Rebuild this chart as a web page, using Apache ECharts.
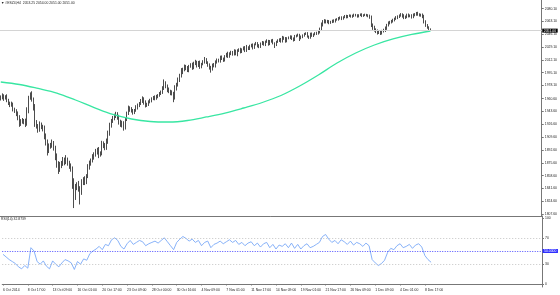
<!DOCTYPE html>
<html><head><meta charset="utf-8">
<script src="https://cdn.jsdelivr.net/npm/echarts@6/dist/echarts.min.js"></script>
<style>html,body{margin:0;padding:0;background:#fff}#c{width:560px;height:295px}</style>
</head><body><div id="c"></div>
<script>
const symbolName = '#ESZ4,H4';
const firstOpen = 1960.25;
const closes = [
1962.5,1964.75,1961.25,1963,1958.5,1955.25,1951.75,1953.5,1947,1944.25,
1940.75,1934.5,1928.25,1931.5,1929.75,1932,1927.5,1944.75,1961.5,1965.25,
1959.75,1949.5,1929,1924.25,1919.5,1926,1923.75,1921.5,1911.75,1903.25,
1891.5,1896.75,1899.25,1901.5,1895.75,1884.25,1873.5,1866.75,1871.25,1875,
1879.25,1876.5,1880,1874.75,1872,1867.5,1848.5,1831.75,1843.25,1846,
1841.5,1836.75,1849,1853.25,1850.5,1857.75,1870.25,1874.5,1879,1883.25,
1886.5,1889.75,1893,1886.25,1888.5,1900.75,1899,1895.5,1904.25,1914,
1925.5,1931.25,1934,1938.5,1940.25,1935.75,1930,1925.75,1927.5,1922.75,
1933.5,1941.25,1948,1946.5,1944.75,1942.5,1945.25,1949,1951.75,1954.25,
1957.5,1960.5,1956,1951.75,1953.5,1956.25,1958,1960.75,1962.25,1961,
1963.5,1965.25,1967,1969.5,1974.25,1981,1977.5,1972,1970.25,1968.75,
1967.5,1961.75,1974.5,1979.25,1985.5,1991,1996.25,1999.5,2003,2001.25,
1998.25,2003.5,2006,2001.75,2007.5,2009.25,2004.5,2008.75,2003,2006.75,
2009.5,2012,2008.75,2005.5,2002,2000.25,2005.5,2004,2009.5,2012.25,
2010.5,2015.75,2013.5,2011.75,2017,2019.5,2016.75,2020,2022.5,2019.75,
2024.25,2020.5,2024.5,2026.25,2022.75,2026,2028.25,2024.5,2029,2026.75,
2030.5,2032,2028.25,2032.75,2034.25,2030.75,2029.5,2033.75,2035.5,2032.25,
2036.25,2037.5,2033,2036.75,2038,2034.25,2032,2036,2037.75,2039.5,
2036.5,2040.5,2041.25,2037,2040.75,2041.5,2043.25,2040,2038.5,2043.75,
2044.5,2045.25,2040.75,2042.5,2044.75,2046.5,2047,2043.25,2042,2046.75,
2044.25,2046,2047.5,2047.25,2049,2052.5,2058.75,2062.25,2064,2062.5,
2063.75,2061.5,2062.25,2064,2063.25,2065.5,2066,2067.25,2068.5,2067,
2068.75,2070.25,2069,2070.5,2071,2069.75,2070.5,2072,2071.25,2070,
2071.5,2072.25,2070.75,2071.5,2072,2071.25,2070.5,2068.75,2058.5,2055,
2052.25,2050.5,2048.75,2049.5,2047.75,2050.25,2051.5,2054,2058.25,2061,
2062.5,2063.25,2065,2066.75,2068.25,2069.5,2071,2072.25,2070.5,2068,
2069.5,2071.75,2070.25,2071,2069.25,2071.5,2072.75,2074,2072.5,2071.25,
2071.75,2069.5,2063,2058.25,2055.5,2053.25,2051
];
const wickHi = [
2.5,3,1.75,2.25,3.5,2,1.5,3.25,2,1.75,
2.5,3,4.25,2,3.5,1.75,2.25,4.5,3,3.75,
5.25,2.5,4,3.25,2.75,4.5,3,2.25,3.5,2.75,
3.25,4.5,2.75,5,3,2.5,3.75,4.25,5.5,3,
4,3.25,5.75,2.5,3.5,2.75,3.25,6.5,4.25,3.75,
5.5,3,4.75,3.25,4.5,2.75,3.5,4,2.25,3.75,
3,4.25,2.5,3.5,2.25,4,3.25,2.75,3.5,4.25,
3.25,2.5,3.75,2.25,3,2.5,3.5,2.75,4,3.25,
2.75,2.25,3.5,2.5,3,2.25,1.75,3,2.5,2,
2.75,3.25,2,2.5,1.75,2.25,2.5,1.75,2,2.75,
2.25,1.5,2.5,2,3,5.25,2.75,2,3.5,2.25,
3,2.25,4,2.5,3.25,2.75,5,2.25,3,2.5,
2.75,2,1.75,2.5,2.25,3,1.75,2,2.5,1.5,
2.25,4,2.5,1.5,2,2.25,1.75,2.5,2,1.75,
1.5,2,2.25,1.75,1.5,2,3.5,2.25,1.75,1.5,
2,1.5,1.75,1.25,2,1.5,1.75,2.25,3,1.25,
1.75,1.5,2,1.25,1.75,1.5,2.25,1.5,1.75,1.25,
1.5,2,1.25,1.75,1.5,2,1.25,1.5,1.75,1.25,
1.75,3.5,2,1.25,1.5,1.75,1.5,1.25,2,1.5,
1.25,1.75,1.5,2,1.25,1.5,1.75,2,1.25,1.5,
1.75,1.25,1.5,2,1.75,2.5,3,2.75,2.25,1.75,
1.5,1.25,1.75,1.5,2,1.25,1.5,1.75,1.25,1.5,
1.25,1.5,1.75,1.25,1.5,1.25,1.75,1.5,1.25,1.5,
1.25,1.5,1.75,1.25,1.5,1.25,1.5,1.75,2.25,2,
2.5,1.75,2,1.5,2.25,1.75,2,2.5,1.75,2.25,
1.5,2,1.75,1.5,2,1.75,1.5,2,1.75,2.25,
1.5,1.75,2,1.5,1.75,2.25,1.5,1.75,2,1.5,
1.75,2,2.5,1.75,1.5,1.25,0.75
];
const wickLo = [
2,2.75,3.5,1.75,2.5,3,2.25,1.75,3.25,2.5,
3.25,2.5,5,3.75,2.25,3,4.5,2.75,3.5,2.25,
3,4.5,5.75,3.25,4,2.75,3.5,4.25,5,4.75,
6.25,3,2.5,3.75,4,5.25,4.5,6,3.25,2.75,
3.5,4.25,2.75,3,4.5,3.75,7.5,16.25,5.5,4,
4.25,16.5,3.75,3,4.5,3.25,2.5,3.75,2.75,3,
3.5,2.75,3.25,4.5,2.5,3,4,3.25,2.75,3.5,
2.5,3.25,2.75,2,3.5,3,3.75,2.5,3.25,4.5,
3,2.5,2.25,3.25,2.5,3,2.25,2,2.75,2.25,
2,2.5,3.25,2.75,2,2.5,1.75,2.25,2,2.5,
1.75,2.25,2,1.5,2.5,2,3,2.75,2.25,3.5,
2.5,5.75,2.25,3,2.5,2.75,2.25,3,2.5,2.75,
2.25,2.5,1.75,2.75,2,2.25,2.5,1.75,2.75,2,
1.75,2.25,2,2.5,2.75,5,2.25,1.75,2,2.25,
1.75,2,1.5,2.25,1.75,1.5,2,1.75,1.5,2,
1.75,2.25,3.5,1.75,2,1.5,1.25,2,1.75,1.5,
1.5,1.75,2.25,1.5,1.25,2,1.75,1.5,2,1.25,
1.75,1.5,2,1.25,1.75,1.5,4,1.5,1.25,1.75,
1.5,1.25,1.75,2,1.5,1.25,1.75,1.5,2,1.25,
1.75,1.5,3.5,1.25,1.5,1.75,1.25,1.5,2,1.75,
1.5,1.75,1.25,2,1.5,1.75,2,2.25,1.75,2,
1.75,2,1.5,1.25,1.75,1.5,1.25,1.75,1.5,2,
1.5,1.25,1.75,1.5,1.25,1.5,1.75,1.25,1.5,1.75,
1.5,1.25,1.75,1.5,1.25,1.5,1.75,2,2.75,3,
2.5,2.75,3,2.25,2.5,2,1.75,2.25,2,1.75,
1.75,2,1.5,1.75,1.5,2,1.75,1.5,2.25,1.75,
1.5,2,1.75,1.5,2.25,1.75,1.5,2,1.75,1.5,
1.75,2,2.5,2.25,2,1.75,0
];
const maPoints = [[0,1982.8],[12,1979.5],[24,1974.2],[36,1968.2],[48,1958.9],[60,1948.9],[72,1939.7],[84,1933.7],[96,1930.4],[108,1929.7],[120,1931.7],[132,1936.4],[144,1941.6],[156,1948.3],[168,1955.6],[180,1964.9],[192,1977.5],[204,1992.1],[216,2008.0],[228,2021.3],[240,2031.9],[252,2039.9],[264,2045.9],[276,2050.5]];
const rsiStep = 2;
const rsiValues = [
45,41,37,34,31,26,23,28,24,55,
50,34,30,35,27,23,35,30,26,32,
37,35,32,22,34,30,38,36,46,50,
53,57,52,60,58,67,70,66,57,53,
61,66,60,63,66,64,58,61,63,65,
62,66,70,64,58,52,63,68,72,69,
65,68,63,66,58,63,65,55,60,62,
65,61,64,67,63,66,60,63,58,62,
64,58,62,56,61,63,55,60,53,59,
57,61,55,62,54,60,53,58,61,55,
57,60,63,72,75,68,63,66,61,67,
64,60,65,59,63,61,57,62,58,37,
32,28,31,36,48,54,52,58,61,55,
57,60,54,59,61,56,43,37,32.8739
];
const priceTickLabels = ['2080.10','2063.10','2046.10','2029.10','2012.10','1995.10','1978.10','1960.60','1943.60','1926.60','1909.60','1892.60','1875.60','1858.60','1841.60','1824.60','1807.60'];
const rsiTickLabels = ['100','70','30','0'];
const rsiLevels = [70, 50, 30];
const timeLabels = ['6 Oct 2014','8 Oct 17:00','13 Oct 09:00','16 Oct 01:00','20 Oct 17:00','23 Oct 09:00','28 Oct 00:00','30 Oct 16:00','4 Nov 09:00','7 Nov 01:00','11 Nov 17:00','14 Nov 09:00','19 Nov 01:00','21 Nov 17:00','26 Nov 09:00','1 Dec 09:00','4 Dec 01:00','8 Dec 17:00'];
const labelEvery = 16;
const totalSlots = 348;

const N = closes.length;
const ohlc = closes.map((c, i) => {
  const o = i === 0 ? firstOpen : closes[i - 1];
  return [o, c, Math.min(o, c) - wickLo[i], Math.max(o, c) + wickHi[i]];
});
const cats = Array.from({length: totalSlots}, (_, i) => String(i));
const rsiData = rsiValues.map((v, k) => [k * rsiStep, v]);
const last = ohlc[N - 1];
const fmt = v => v.toFixed(2);
const FONT = 'Liberation Sans';
const FS = 3.4;
const TXT = '#222';
const AX = '#777';
const priceTicks = priceTickLabels.map(Number);
const rsiTicks = rsiTickLabels.map(Number);
const showLbl = (i) => i % labelEvery === 0 && i / labelEvery < timeLabels.length;

const chart = echarts.init(document.getElementById('c'), null, {renderer: 'canvas'});
chart.setOption({
  animation: false,
  backgroundColor: '#fff',
  title: [
    {text: '▼ ' + symbolName + '  ' + [last[0], last[3], last[2], last[1]].map(fmt).join(' '),
     left: 1, top: 1.5, padding: 0,
     textStyle: {fontSize: FS, fontWeight: 'normal', color: TXT, fontFamily: FONT}},
    {text: 'RSI(14) ' + rsiValues[rsiValues.length - 1].toFixed(4),
     left: 1, top: 217.5, padding: 0,
     textStyle: {fontSize: FS, fontWeight: 'normal', color: TXT, fontFamily: FONT}}
  ],
  grid: [
    {left: 0, right: 18, top: 0, height: 216},
    {left: 0, right: 18, top: 216, bottom: 8}
  ],
  xAxis: [
    {type: 'category', gridIndex: 0, data: cats, boundaryGap: true,
     axisLine: {show: true, lineStyle: {color: AX, width: 1}},
     axisTick: {show: false}, axisLabel: {show: false}, splitLine: {show: false}},
    {type: 'category', gridIndex: 1, data: cats, boundaryGap: true,
     axisLine: {show: true, lineStyle: {color: AX, width: 1}},
     axisTick: {show: true, alignWithLabel: true, interval: showLbl, length: 1.5, lineStyle: {color: AX}},
     axisLabel: {interval: showLbl, formatter: (v, i) => timeLabels[i / labelEvery], align: 'left',
       fontSize: FS, margin: 1.2, color: TXT, fontFamily: FONT},
     splitLine: {show: false}}
  ],
  yAxis: [
    {type: 'value', gridIndex: 0, position: 'right', min: 1804.95, max: 2091.65,
     axisLine: {show: true, lineStyle: {color: AX, width: 1}},
     axisTick: {show: true, length: 2, customValues: priceTicks, lineStyle: {color: AX}},
     axisLabel: {customValues: priceTicks, formatter: v => priceTickLabels[priceTicks.indexOf(v)] || fmt(v),
       fontSize: FS, margin: 3, color: TXT, fontFamily: FONT},
     splitLine: {show: false}},
    {type: 'value', gridIndex: 1, position: 'right', min: -4.55, max: 103.03,
     axisLine: {show: true, lineStyle: {color: AX, width: 1}},
     axisTick: {show: true, length: 2, customValues: rsiTicks, lineStyle: {color: AX}},
     axisLabel: {customValues: rsiTicks, formatter: v => rsiTickLabels[rsiTicks.indexOf(v)],
       fontSize: FS, margin: 3, color: TXT, fontFamily: FONT},
     splitLine: {show: false}}
  ],
  series: [
    {type: 'candlestick', xAxisIndex: 0, yAxisIndex: 0, data: ohlc, barWidth: 1.3,
     itemStyle: {color: '#ffffff', color0: '#000000', borderColor: '#000000', borderColor0: '#000000', borderWidth: 0.7},
     markLine: {symbol: 'none', silent: true, animation: false,
       data: [{yAxis: last[1]}],
       lineStyle: {color: '#d4d4d4', type: 'solid', width: 1},
       label: {show: true, position: 'end', distance: 0.5, formatter: fmt(last[1]),
         backgroundColor: '#000', color: '#fff', fontSize: FS, fontFamily: FONT, padding: [0.6, 1.6, 0.4, 1.6]}}},
    {type: 'line', xAxisIndex: 0, yAxisIndex: 0, data: maPoints, smooth: 0.35,
     showSymbol: false, lineStyle: {color: '#38e6a2', width: 1.3}, z: 3},
    {type: 'line', xAxisIndex: 1, yAxisIndex: 1, data: rsiData, showSymbol: false,
     lineStyle: {color: '#7aa9f7', width: 0.9},
     markLine: {symbol: 'none', silent: true, animation: false,
       data: rsiLevels.map(l => l === 50
         ? {yAxis: l, lineStyle: {color: '#3a3aff', type: [1, 1.5], width: 0.9},
            label: {show: true, position: 'end', distance: 0.5, formatter: l.toFixed(4),
              backgroundColor: '#2f2fff', color: '#fff', fontSize: FS, fontFamily: FONT, padding: [0.6, 1.6, 0.4, 1.6]}}
         : {yAxis: l, lineStyle: {color: '#bdbdbd', type: [1, 2], width: 0.9}, label: {show: false}})}}
  ]
});
</script>
</body></html>
